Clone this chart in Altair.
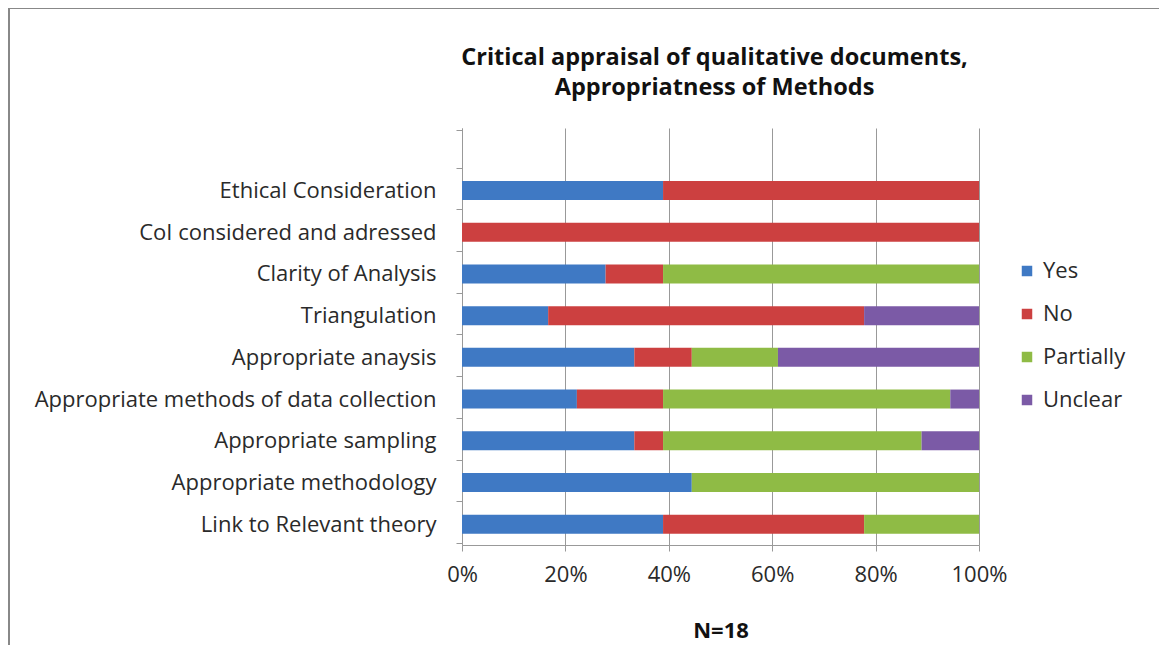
import altair as alt
import pandas as pd

categories = [
    "Ethical Consideration",
    "CoI considered and adressed",
    "Clarity of Analysis",
    "Triangulation",
    "Appropriate anaysis",
    "Appropriate methods of data collection",
    "Appropriate sampling",
    "Appropriate methodology",
    "Link to Relevant theory",
]
series = ["Yes", "No", "Partially", "Unclear"]
yes = [7, 0, 5, 3, 6, 4, 6, 8, 7]
no = [11, 18, 2, 11, 2, 3, 1, 0, 7]
partially = [0, 0, 11, 0, 3, 10, 9, 10, 4]
unclear = [0, 0, 0, 4, 7, 1, 2, 0, 0]
colors = ["#3f79c4", "#cc4040", "#8fbb45", "#7b5aa6"]

rows = []
for i, c in enumerate(categories):
    for j, (s, vals) in enumerate(zip(series, [yes, no, partially, unclear])):
        rows.append({"category": c, "series": s, "count": vals[i], "order": j})
df = pd.DataFrame(rows)

domain_y = [" "] + categories

font = "Open Sans"
fs = 22

bars = alt.Chart(df).mark_bar(size=19).encode(
    y=alt.Y("category:N", scale=alt.Scale(domain=domain_y), sort=domain_y,
            axis=alt.Axis(title=None, tickBand="extent", labelFontSize=fs,
                          labelPadding=20, tickSize=6, labelColor="#2a2a2a",
                          labelFont=font, domainColor="#999", tickColor="#999",
                          labelLimit=600)),
    x=alt.X("count:Q", stack="normalize",
            scale=alt.Scale(domain=[0, 1]),
            axis=alt.Axis(format="%", values=[0, 0.2, 0.4, 0.6, 0.8, 1.0],
                          title="N=18", titleFontSize=22, titleFont=font,
                          titleFontWeight="bold", titlePadding=35,
                          titleColor="#111",
                          labelFontSize=fs, labelFont=font, labelColor="#2a2a2a",
                          labelPadding=13, labelFlush=False, tickSize=6, grid=True,
                          gridColor="#999", domainColor="#999", tickColor="#999")),
    color=alt.Color("series:N", scale=alt.Scale(domain=series, range=colors),
                    legend=alt.Legend(title=None, orient="none", legendX=554,
                                      legendY=132, symbolType="square",
                                      symbolSize=110, labelFontSize=fs,
                                      labelFont=font, labelColor="#2a2a2a",
                                      labelOffset=5,
                                      rowPadding=21, symbolStrokeWidth=0)),
    order=alt.Order("order:Q"),
)

frame = alt.Chart(alt.Data(values=[{}])).mark_rule(color="#888", strokeWidth=2).encode(
    x=alt.value(-453), y=alt.value(-120), y2=alt.value(540)
) + alt.Chart(alt.Data(values=[{}])).mark_rule(color="#888", strokeWidth=2).encode(
    x=alt.value(-453), x2=alt.value(720), y=alt.value(-120)
)

chart = alt.layer(bars, frame).properties(
    width=517,
    height=417,
    padding={"left": 454, "top": 120, "right": 180, "bottom": 100},
    autosize=alt.AutoSizeParams(type="none"),
    title=alt.Title(["Critical appraisal of qualitative documents,",
                     "Appropriatness of Methods"], fontSize=23.5, font=font,
                    fontWeight="bold", lineHeight=30, offset=0, dy=92, dx=-6,
                    color="#111"),
).configure_view(stroke=None)

chart.save("out.html", embed_options={"renderer": "svg", "actions": False})
